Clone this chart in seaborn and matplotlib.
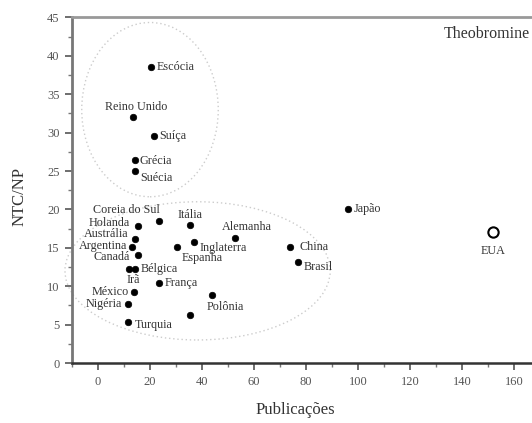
import matplotlib
matplotlib.use("Agg")
import matplotlib.pyplot as plt
from matplotlib.patches import Ellipse
from matplotlib.ticker import MultipleLocator
import seaborn as sns
import pandas as pd

# Countries: publications vs. citation ratio (NTC/NP)
countries = ["Escócia", "Reino Unido", "Suíça", "Grécia", "Suécia",
             "Coreia do Sul", "Holanda", "Itália", "Alemanha", "Austrália",
             "Argentina", "Canadá", "Inglaterra", "Espanha", "Bélgica",
             "Irã", "França", "México", "Polônia", "Nigéria", "",
             "Turquia", "Japão", "China", "Brasil"]
publicacoes = [20.3, 13.4, 21.4, 14.2, 14.2,
               23.3, 15.3, 35.2, 52.8, 14.2,
               13.0, 15.3, 37.1, 30.2, 14.2,
               11.9, 23.3, 13.8, 44.0, 11.5, 35.2,
               11.5, 96.1, 73.9, 76.9]
ntc_np = [38.5, 32.0, 29.6, 26.5, 25.0,
          18.5, 17.9, 18.0, 16.3, 16.2,
          15.1, 14.1, 15.8, 15.1, 12.3,
          12.3, 10.4, 9.3, 8.9, 7.7, 6.3,
          5.3, 20.1, 15.1, 13.2]

# Highlighted country (open marker)
outlier_name = ["EUA"]
outlier_pub = [152.0]
outlier_ratio = [17.1]

# Label placement: (dx, dy) in pixels, horizontal alignment
label_pos = {
    "Escócia": (6, 0, "left"), "Reino Unido": (3, 10, "center"),
    "Suíça": (6, 0, "left"), "Grécia": (5, -1, "left"),
    "Suécia": (5, -7, "left"), "Coreia do Sul": (1, 11, "right"),
    "Holanda": (-8, 3, "right"), "Itália": (0, 10, "center"),
    "Alemanha": (12, 11, "center"), "Austrália": (-6, 5, "right"),
    "Argentina": (-5, 1, "right"), "Canadá": (-8, -2, "right"),
    "Inglaterra": (5, -6, "left"), "Espanha": (5, -11, "left"),
    "Bélgica": (6, 0, "left"), "Irã": (4, -11, "center"),
    "França": (6, 0, "left"), "México": (-5, 0, "right"),
    "Polônia": (13, -12, "center"), "Nigéria": (-6, 0, "right"),
    "Turquia": (7, -3, "left"), "Japão": (6, 0, "left"),
    "China": (9, 0, "left"), "Brasil": (6, -5, "left"),
    "EUA": (0, -19, "center"),
}

sns.set_theme(style="ticks")
plt.rcParams["font.family"] = ["Liberation Serif", "DejaVu Serif"]

df = pd.DataFrame({"pais": countries, "pub": publicacoes, "ratio": ntc_np})
df_out = pd.DataFrame({"pais": outlier_name, "pub": outlier_pub, "ratio": outlier_ratio})

fig = plt.figure(figsize=(5.32, 4.23), dpi=100)
ax = fig.add_axes([72 / 532, 60 / 423, 468 / 532, 345.5 / 423])

sns.scatterplot(data=df, x="pub", y="ratio", ax=ax, color="black",
                s=22, edgecolor="black", linewidth=0.5, zorder=3)
sns.scatterplot(data=df_out, x="pub", y="ratio", ax=ax, facecolor="white",
                edgecolor="black", s=55, linewidth=1.5, zorder=3)

px2pt = 0.72
for name, xv, yv in zip(df["pais"].tolist() + outlier_name,
                        df["pub"].tolist() + outlier_pub,
                        df["ratio"].tolist() + outlier_ratio):
    if not name:
        continue
    dx, dy, ha = label_pos[name]
    ax.annotate(name, (xv, yv), xytext=(dx * px2pt, dy * px2pt),
                textcoords="offset points", ha=ha, va="center",
                fontsize=8.7, color="#333333", zorder=4)

# Dotted grouping ellipses
ax.add_patch(Ellipse((20.0, 33.0), 52.5, 22.7, fill=False, ls=(0, (1, 2)),
                     ec="#cccccc", lw=1.0, zorder=1))
ax.add_patch(Ellipse((38.3, 12.0), 102, 18, fill=False, ls=(0, (1, 2)),
                     ec="#cccccc", lw=1.0, zorder=1, clip_on=False))

ax.text(133, 42.8, "Theobromine", ha="left", va="center", fontsize=11.5,
        color="#333333")

ax.set_xlim(-10, 170)
ax.set_ylim(0, 45)
ax.xaxis.set_major_locator(MultipleLocator(20))
ax.xaxis.set_minor_locator(MultipleLocator(10))
ax.yaxis.set_major_locator(MultipleLocator(5))
ax.yaxis.set_minor_locator(MultipleLocator(2.5))

ax.set_xlabel("Publicações", fontsize=12, color="#333333")
ax.set_ylabel("NTC/NP", fontsize=12, color="#333333")
ax.xaxis.set_label_coords(0.477, -0.113)
ax.yaxis.set_label_coords(-0.094, 0.483)

ax.tick_params(which="major", direction="out", length=5, width=1.2,
               labelsize=9, colors="#555555", pad=4)
ax.tick_params(which="minor", direction="out", length=3, width=1.0,
               colors="#777777")

for side in ["left", "bottom", "top", "right"]:
    ax.spines[side].set_visible(True)
ax.spines["left"].set_color("#777777")
ax.spines["left"].set_linewidth(2.0)
ax.spines["bottom"].set_color("#333333")
ax.spines["bottom"].set_linewidth(1.8)
ax.spines["top"].set_color("#999999")
ax.spines["top"].set_linewidth(2.0)
ax.spines["right"].set_color("#999999")

fig.savefig("out.png", dpi=100)
